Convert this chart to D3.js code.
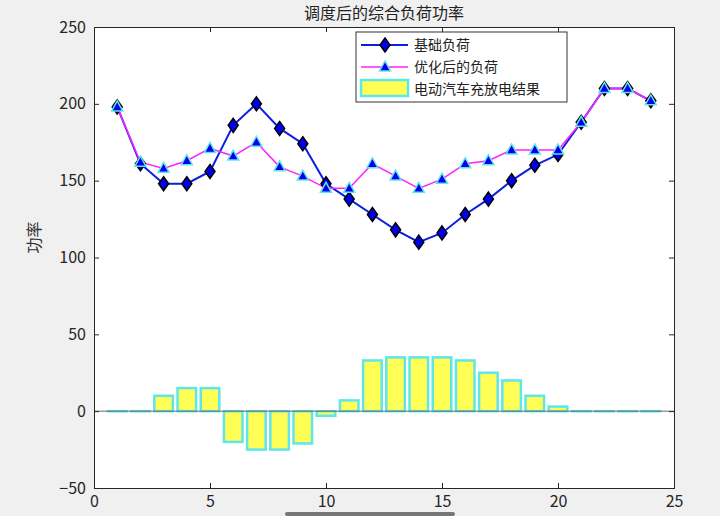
<!DOCTYPE html><html><head><meta charset="utf-8"><script src="https://cdn.jsdelivr.net/npm/d3@7"></script>
<style>body{margin:0;background:#f0f0f0}svg{display:block}text{font-family:"Noto Sans CJK SC","DejaVu Sans",sans-serif}</style></head><body>
<svg id="c" width="720" height="516"></svg>
<script>
const hours=d3.range(1,25);
const baseLoad=[198,161,148,148,156,186,200,184,174,148,138,128,118,110,116,128,138,150,160,167,188,210,210,202];
const optLoad=[198,162,158,163,171,166,175,159,153,145,145,161,153,145,151,161,163,170,170,170,188,210,210,202];
const evResult=[0,0,10,15,15,-20,-25,-25,-21,-3,7,33,35,35,35,33,25,20,10,3,0,0,0,0];
const xTicks=[0,5,10,15,20,25], yTicks=[-50,0,50,100,150,200,250];
const svg=d3.select("#c");
const L=94,R=674,T=27,B=488;
const x=d3.scaleLinear().domain([0,25]).range([L,R]);
const y=d3.scaleLinear().domain([-50,250]).range([B,T]);
svg.append("rect").attr("x",L).attr("y",T).attr("width",R-L).attr("height",B-T).attr("fill","#fff");
const bw=x(0.8)-x(0);
svg.selectAll(".bar").data(evResult).join("rect").attr("x",(d,i)=>x(hours[i])-bw/2).attr("y",d=>y(Math.max(0,d)))
 .attr("width",bw).attr("height",d=>Math.max(0.1,Math.abs(y(d)-y(0)))).attr("fill","#ffff55").attr("stroke","#5ee6ea").attr("stroke-width",2.5);
svg.append("line").attr("x1",L).attr("x2",R).attr("y1",y(0)).attr("y2",y(0)).attr("stroke","#666").attr("stroke-width",1);
const ln=d3.line().x((d,i)=>x(hours[i])).y(d=>y(d));
svg.append("path").attr("d",ln(baseLoad)).attr("fill","none").attr("stroke","#0a1fe0").attr("stroke-width",2);
svg.append("path").attr("d",ln(optLoad)).attr("fill","none").attr("stroke","#ff22ff").attr("stroke-width",1.5);
const dia="M0,-7L5,0L0,7L-5,0Z", tri="M0,-6L5.5,4L-5.5,4Z";
svg.selectAll(".d").data(baseLoad).join("path").attr("d",dia).attr("transform",(d,i)=>`translate(${x(hours[i])},${y(d)})`).attr("fill","#0000ee").attr("stroke","#000").attr("stroke-width",1.5);
svg.selectAll(".t").data(optLoad).join("path").attr("d",tri).attr("transform",(d,i)=>`translate(${x(hours[i])},${y(d)})`).attr("fill","#0000ee").attr("stroke","#5ee6ea").attr("stroke-width",1.5);
const gx=svg.append("g").attr("transform",`translate(0,${B})`).call(d3.axisBottom(x).tickValues(xTicks).tickSize(-5).tickPadding(8));
const gx2=svg.append("g").attr("transform",`translate(0,${T})`).call(d3.axisTop(x).tickValues(xTicks).tickSize(-5).tickFormat(""));
const gy=svg.append("g").attr("transform",`translate(${L},0)`).call(d3.axisLeft(y).tickValues(yTicks).tickSize(-5).tickPadding(8));
const gy2=svg.append("g").attr("transform",`translate(${R},0)`).call(d3.axisRight(y).tickValues(yTicks).tickSize(-5).tickFormat(""));
[gx,gx2,gy,gy2].forEach(g=>{g.selectAll("path,line").attr("stroke","#262626");g.selectAll("text").attr("fill","#262626").attr("font-size",16).attr("font-family","Liberation Sans, Arial, sans-serif");});
svg.append("text").attr("x",(L+R)/2).attr("y",19).attr("text-anchor","middle").attr("font-size",16).attr("fill","#222").text("调度后的综合负荷功率");
svg.append("text").attr("transform",`translate(40,${(T+B)/2-20}) rotate(-90)`).attr("text-anchor","middle").attr("font-size",16).attr("fill","#333").text("功率");
const lg=svg.append("g").attr("transform","translate(356,32)");
lg.append("rect").attr("width",211).attr("height",70).attr("fill","#fff").attr("stroke","#333");
lg.append("line").attr("x1",5).attr("x2",52).attr("y1",13).attr("y2",13).attr("stroke","#0a1fe0").attr("stroke-width",2);
lg.append("path").attr("d",dia).attr("transform","translate(29,13)").attr("fill","#0000ee").attr("stroke","#000").attr("stroke-width",1.5);
lg.append("line").attr("x1",5).attr("x2",52).attr("y1",35).attr("y2",35).attr("stroke","#ff22ff").attr("stroke-width",1.5);
lg.append("path").attr("d",tri).attr("transform","translate(29,35)").attr("fill","#0000ee").attr("stroke","#5ee6ea").attr("stroke-width",1.5);
lg.append("rect").attr("x",5).attr("y",48).attr("width",47).attr("height",16).attr("fill","#ffff55").attr("stroke","#5ee6ea").attr("stroke-width",2.5);
["基础负荷","优化后的负荷","电动汽车充放电结果"].forEach((t,i)=>lg.append("text").attr("x",58).attr("y",18+i*22).attr("font-size",14).attr("fill","#222").text(t));
svg.append("rect").attr("x",285).attr("y",512).attr("width",170).attr("height",4).attr("rx",2).attr("fill","#777");
</script></body></html>
